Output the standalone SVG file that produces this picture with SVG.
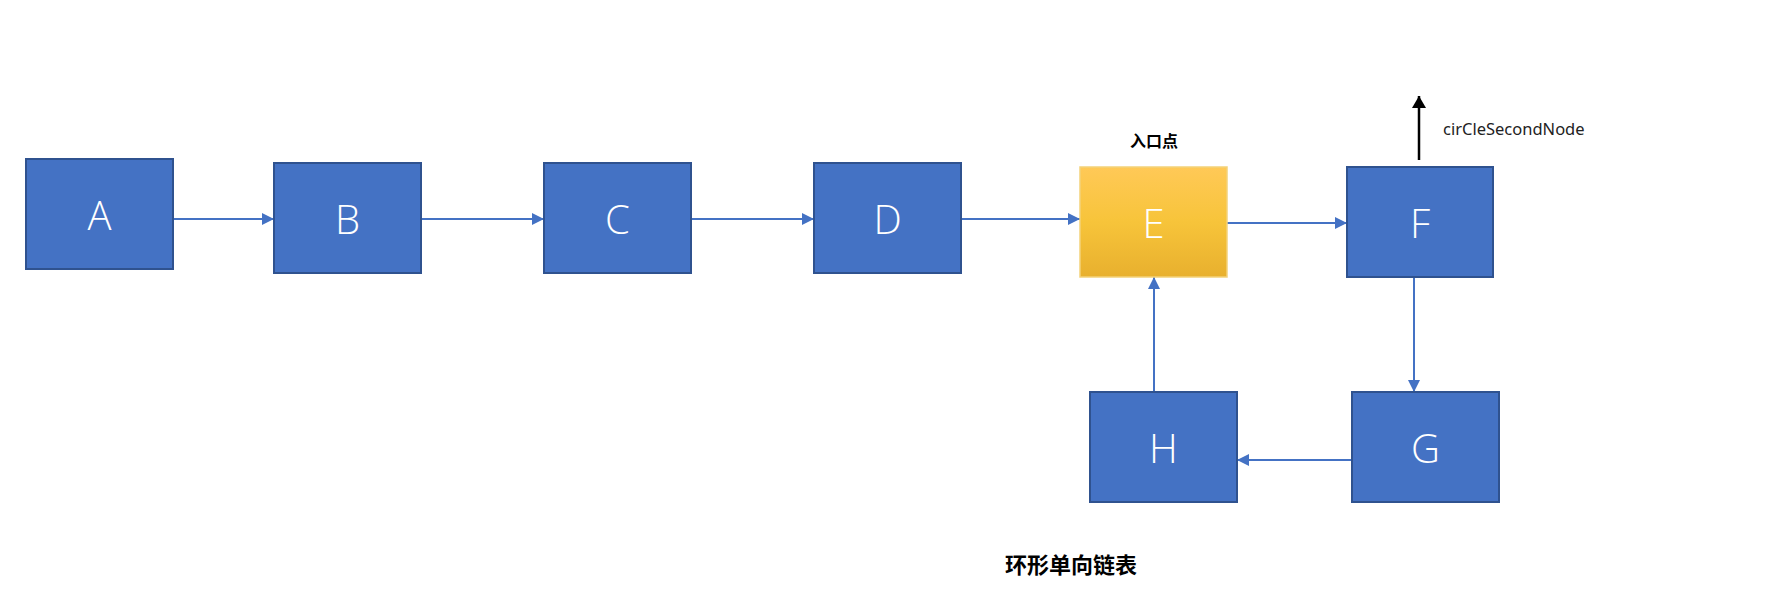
<svg xmlns="http://www.w3.org/2000/svg" width="1782" height="602" viewBox="0 0 1782 602">
<defs>
<style>
.node{fill:#4472C4;stroke:#2F528F;stroke-width:2}
.lbl{font-family:"Open Sans","Noto Sans",sans-serif;font-weight:300;font-size:40px;fill:#fff;text-anchor:middle;dominant-baseline:central}
.conn{stroke:#4472C4;stroke-width:2;fill:none}
.cjk{font-family:"Noto Sans CJK SC",sans-serif;font-weight:bold;fill:#000;text-anchor:middle;dominant-baseline:central}
</style>
<linearGradient id="gold" x1="0" y1="0" x2="0" y2="1">
<stop offset="0" stop-color="#FFC957"/>
<stop offset="0.5" stop-color="#F7C43A"/>
<stop offset="1" stop-color="#E8B02E"/>
</linearGradient>
<marker id="ah" viewBox="0 0 12 12" refX="12" refY="6" markerWidth="12" markerHeight="12" markerUnits="userSpaceOnUse" orient="auto">
<path d="M0,0 L12,6 L0,12 z" fill="#4472C4"/>
</marker>
<marker id="ahk" viewBox="0 0 12 14" refX="12" refY="7" markerWidth="12" markerHeight="14" markerUnits="userSpaceOnUse" orient="auto">
<path d="M0,0 L12,7 L0,14 z" fill="#000"/>
</marker>
</defs>
<rect width="1782" height="602" fill="#fff"/>
<g id="connectors">
<line class="conn" x1="173" y1="219" x2="274" y2="219" marker-end="url(#ah)"/>
<line class="conn" x1="421" y1="219" x2="544" y2="219" marker-end="url(#ah)"/>
<line class="conn" x1="691" y1="219" x2="814" y2="219" marker-end="url(#ah)"/>
<line class="conn" x1="961" y1="219" x2="1080" y2="219" marker-end="url(#ah)"/>
<line class="conn" x1="1227" y1="223" x2="1347" y2="223" marker-end="url(#ah)"/>
<line class="conn" x1="1414" y1="277" x2="1414" y2="392" marker-end="url(#ah)"/>
<line class="conn" x1="1352" y1="460" x2="1237" y2="460" marker-end="url(#ah)"/>
<line class="conn" x1="1154" y1="392" x2="1154" y2="277" marker-end="url(#ah)"/>
<line x1="1419" y1="160" x2="1419" y2="96" stroke="#000" stroke-width="2.5" marker-end="url(#ahk)"/>
</g>
<g id="A"><rect class="node" x="26" y="159" width="147" height="110"/><text class="lbl" x="99.5" y="214">A</text></g>
<g id="B"><rect class="node" x="274" y="163" width="147" height="110"/><text class="lbl" x="347.5" y="218">B</text></g>
<g id="C"><rect class="node" x="544" y="163" width="147" height="110"/><text class="lbl" x="617.5" y="218">C</text></g>
<g id="D"><rect class="node" x="814" y="163" width="147" height="110"/><text class="lbl" x="887.5" y="218">D</text></g>
<g id="E"><rect x="1080" y="167" width="147" height="110" fill="url(#gold)" stroke="#F3D27A" stroke-width="1.5"/><text class="lbl" x="1153.5" y="222">E</text></g>
<g id="F"><rect class="node" x="1347" y="167" width="146" height="110"/><text class="lbl" x="1420" y="222">F</text></g>
<g id="G"><rect class="node" x="1352" y="392" width="147" height="110"/><text class="lbl" x="1425.5" y="447">G</text></g>
<g id="H"><rect class="node" x="1090" y="392" width="147" height="110"/><text class="lbl" x="1163.5" y="447">H</text></g>
<text class="cjk" x="1154" y="140" font-size="16">入口点</text>
<text x="1443" y="128" font-family="Noto Sans, sans-serif" font-size="16.5" fill="#222" dominant-baseline="central">cirCleSecondNode</text>
<text class="cjk" x="1071" y="563" font-size="22">环形单向链表</text>
</svg>
